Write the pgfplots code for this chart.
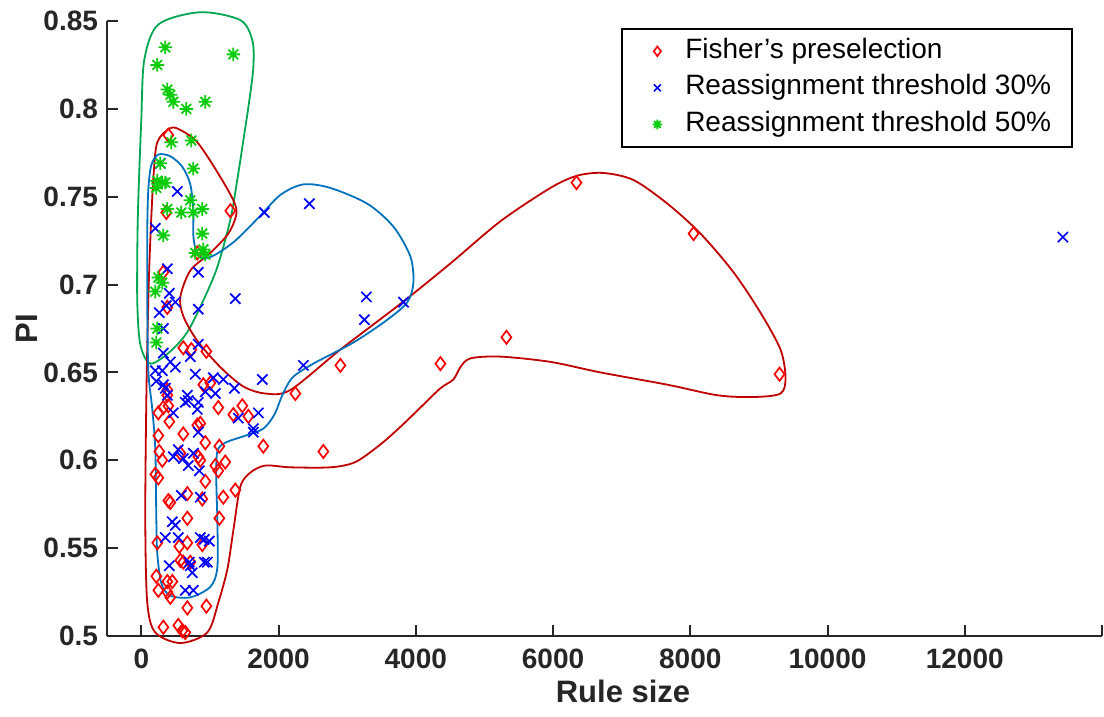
\documentclass[border=0pt]{standalone}
\usepackage{fontspec}
\setmainfont{Liberation Sans}
\usepackage{pgfplots}
\pgfplotsset{compat=1.18}
\definecolor{mred}{RGB}{255,0,0}
\definecolor{mblue}{RGB}{0,0,255}
\definecolor{mgreen}{RGB}{10,204,10}
\definecolor{cred}{RGB}{192,0,0}
\definecolor{cblue}{RGB}{0,114,189}
\definecolor{cgreen}{RGB}{0,166,81}
\definecolor{axgray}{RGB}{38,38,38}
\pgfdeclareplotmark{mstar}{%
  \pgfpathmoveto{\pgfqpoint{-\pgfplotmarksize}{0pt}}\pgfpathlineto{\pgfqpoint{\pgfplotmarksize}{0pt}}%
  \pgfpathmoveto{\pgfqpoint{0pt}{-\pgfplotmarksize}}\pgfpathlineto{\pgfqpoint{0pt}{\pgfplotmarksize}}%
  \pgfpathmoveto{\pgfqpoint{-.7071\pgfplotmarksize}{-.7071\pgfplotmarksize}}\pgfpathlineto{\pgfqpoint{.7071\pgfplotmarksize}{.7071\pgfplotmarksize}}%
  \pgfpathmoveto{\pgfqpoint{-.7071\pgfplotmarksize}{.7071\pgfplotmarksize}}\pgfpathlineto{\pgfqpoint{.7071\pgfplotmarksize}{-.7071\pgfplotmarksize}}%
  \pgfusepathqstroke}
\begin{document}
\begin{tikzpicture}
\begin{axis}[
  scale only axis, width=497.5pt, height=307.5pt,
  xmin=-500, xmax=14000, ymin=0.5, ymax=0.85,
  clip=false, scaled x ticks=false, scaled y ticks=false,
  axis x line=bottom, axis y line=left,
  axis line style={-, line width=1pt, color=axgray},
  xtick={0,2000,4000,6000,8000,10000,12000,14000},
  xticklabels={0,2000,4000,6000,8000,10000,12000,{}},
  ytick={0.5,0.55,0.6,0.65,0.7,0.75,0.8,0.85},
  yticklabels={0.5,0.55,0.6,0.65,0.7,0.75,0.8,0.85},
  tick align=inside, major tick length=5.5pt,
  tick style={line width=1pt, color=axgray},
  ticklabel style={font=\fontsize{14}{16}\selectfont\bfseries, text=axgray},
  xticklabel style={yshift=-3pt},
  yticklabel style={xshift=-1pt},
  xlabel={Rule size}, ylabel={PI},
  label style={font=\fontsize{15.5}{18}\selectfont\bfseries, text=axgray},
  xlabel style={at={(axis description cs:0.5186,0)}, anchor=north, yshift=-18.3pt},
  ylabel style={at={(axis description cs:-0.0804,0.5)}, anchor=center},
  legend cell align=left,
  legend image code/.code={\path (0pt,-4pt) (20pt,4pt); \draw[mark repeat=1,mark phase=1,mark size=2.4pt,#1] plot coordinates {(11pt,0pt)};},
  legend style={at={(rel axis cs:0.9709,0.9886)}, anchor=north east, draw=black, line width=1pt,
    inner xsep=6pt, inner ysep=2pt, font=\fontsize{14}{16}\selectfont,
    nodes={text height=10pt, text depth=3pt, inner ysep=2.65pt, inner xsep=4.5pt},
    /tikz/every even column/.append style={column sep=6pt}},
]
\addplot[only marks, mark=diamond, mark size=3.3pt, color=mred, line width=0.85pt] coordinates {
(394,0.785)(1298,0.742)(364,0.741)(2901,0.654)(4359,0.655)(2245,0.638)(1778,0.608)(2653,0.605)
(5321,0.670)(6342,0.758)(8048,0.729)(9301,0.649)(321,0.707)(816,0.718)(379,0.687)(612,0.664)
(729,0.663)(948,0.662)(904,0.643)(1006,0.644)(379,0.640)(379,0.637)(1122,0.630)(1472,0.631)
(248,0.627)(321,0.630)(394,0.631)(408,0.622)(1341,0.626)(1560,0.625)(816,0.620)(860,0.621)
(248,0.614)(612,0.615)(933,0.610)(1137,0.608)(262,0.605)(306,0.600)(569,0.604)(860,0.600)
(1079,0.597)(1224,0.599)(1122,0.594)(248,0.590)(933,0.588)(671,0.581)(889,0.578)(1195,0.579)
(1370,0.583)(394,0.577)(423,0.576)(671,0.567)(1137,0.567)(233,0.553)(671,0.553)(554,0.551)
(889,0.552)(569,0.543)(612,0.542)(714,0.542)(219,0.534)(248,0.526)(379,0.531)(452,0.531)
(379,0.525)(423,0.522)(671,0.516)(948,0.517)(321,0.505)(539,0.506)(598,0.503)(641,0.502)
(831,0.602)(204,0.592)
};
\addlegendentry{Fisher’s preselection}
\addplot[only marks, mark=x, mark size=3.6pt, color=mblue, line width=0.85pt] coordinates {
(277,0.769)(525,0.753)(1793,0.741)(2449,0.746)(204,0.732)(379,0.709)(831,0.707)(1370,0.692)
(3280,0.693)(3820,0.690)(3251,0.680)(408,0.695)(496,0.690)(364,0.688)(262,0.684)(831,0.686)
(321,0.675)(321,0.661)(831,0.666)(714,0.659)(423,0.656)(496,0.653)(204,0.651)(306,0.651)
(219,0.645)(321,0.643)(350,0.641)(379,0.637)(787,0.649)(1050,0.647)(1195,0.646)(1356,0.641)
(1764,0.646)(2362,0.654)(671,0.637)(685,0.634)(933,0.639)(1079,0.638)(641,0.633)(831,0.633)
(816,0.629)(467,0.627)(1414,0.624)(1706,0.627)(1633,0.618)(1633,0.616)(831,0.616)(539,0.606)
(467,0.602)(612,0.601)(685,0.597)(758,0.604)(845,0.594)(583,0.580)(860,0.579)(452,0.565)
(496,0.563)(350,0.556)(539,0.556)(860,0.556)(918,0.555)(991,0.554)(408,0.540)(700,0.542)
(714,0.540)(743,0.536)(918,0.542)(962,0.542)(641,0.526)(758,0.526)(13430,0.727)
};
\addlegendentry{Reassignment threshold 30\%}
\addplot[only marks, mark=mstar, mark size=3.4pt, color=mgreen, line width=0.9pt] coordinates {
(350,0.835)(233,0.825)(1341,0.831)(379,0.811)(423,0.808)(467,0.804)(656,0.800)(933,0.804)
(437,0.781)(729,0.782)(758,0.766)(277,0.769)(233,0.759)(306,0.758)(350,0.758)(219,0.755)
(379,0.743)(583,0.741)(758,0.741)(889,0.743)(714,0.748)(889,0.729)(321,0.728)(787,0.718)
(904,0.720)(933,0.717)(248,0.704)(306,0.701)(204,0.696)(233,0.675)(219,0.667)
};
\addlegendentry{Reassignment threshold 50\%}
% contours
\addplot[smooth cycle, color=cgreen, line width=0.9pt, mark=none, forget plot] coordinates {
(860,0.855)(1443,0.8505)(1618,0.839)(1633,0.824)(1575,0.805)(1487,0.782)(1400,0.760)(1298,0.737)
(1108,0.710)(904,0.691)(671,0.673)(423,0.662)(131,0.655)(-15,0.666)(-58,0.689)(-58,0.720)
(-44,0.748)(0,0.794)(44,0.828)(248,0.848)
};
\addplot[smooth cycle, color=cred, line width=0.9pt, mark=none, forget plot] coordinates {
(423,0.789)(569,0.788)(816,0.781)(1108,0.764)(1341,0.748)(1385,0.740)(1268,0.729)(1006,0.718)
(714,0.708)(569,0.693)(612,0.682)(816,0.668)(1152,0.653)(1487,0.642)(1808,0.638)(2172,0.640)
(2901,0.663)(3775,0.689)(4504,0.712)(5233,0.736)(5962,0.755)(6356,0.762)(6735,0.7635)(7172,0.7595)
(7668,0.746)(8149,0.729)(8630,0.707)(9023,0.684)(9315,0.663)(9388,0.647)(9315,0.638)(8921,0.636)
(8396,0.637)(7668,0.643)(6691,0.650)(5962,0.656)(5233,0.659)(4796,0.658)(4650,0.653)(4548,0.646)
(4359,0.641)(4067,0.630)(3775,0.619)(3484,0.609)(3119,0.599)(2755,0.596)(2172,0.596)(1808,0.597)
(1589,0.593)(1443,0.585)(1341,0.560)(1254,0.538)(1122,0.519)(962,0.502)(569,0.496)(204,0.502)
(87,0.519)(58,0.566)(73,0.634)(102,0.691)(131,0.725)(175,0.760)(233,0.781)
};
\addplot[smooth cycle, color=cblue, line width=0.9pt, mark=none, forget plot] coordinates {
(248,0.774)(423,0.773)(598,0.767)(714,0.757)(758,0.742)(758,0.728)(802,0.719)(904,0.715)
(1079,0.717)(1370,0.725)(1706,0.738)(2026,0.751)(2361,0.757)(2755,0.755)(3294,0.746)(3673,0.733)
(3921,0.716)(3965,0.701)(3877,0.690)(3586,0.680)(3090,0.667)(2507,0.655)(2201,0.647)(2055,0.637)
(1939,0.626)(1778,0.618)(1516,0.614)(1224,0.610)(1108,0.605)(1093,0.589)(1108,0.566)(1108,0.539)
(1006,0.528)(714,0.522)(423,0.523)(292,0.530)(233,0.547)(219,0.566)(204,0.606)(160,0.629)
(102,0.651)(87,0.691)(87,0.731)(102,0.754)(146,0.768)
};
\end{axis}
\pgfresetboundingbox
\path[use as bounding box] (current axis.south west) ++(-53.5pt,-40.5pt) rectangle ++(552pt,358.5pt);
\end{tikzpicture}
\end{document}
